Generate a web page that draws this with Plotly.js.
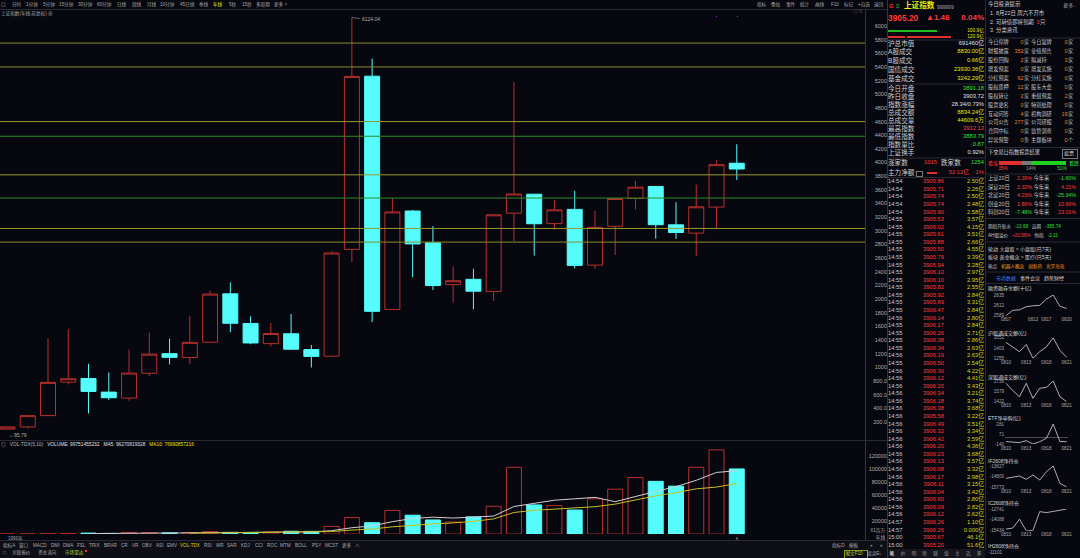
<!DOCTYPE html>
<html><head><meta charset="utf-8">
<script src="https://cdn.plot.ly/plotly-3.0.1.min.js"></script>
<style>
html,body{margin:0;padding:0;background:#07070f;width:1080px;height:558px;overflow:hidden;}
#chart{position:absolute;left:0;top:0;width:1080px;height:558px;}
#ov{position:absolute;left:0;top:0;width:1080px;height:558px;pointer-events:none;}
.t{position:absolute;white-space:nowrap;font-family:"Liberation Sans","Noto Sans CJK SC",sans-serif;line-height:1;}
.t span{margin-right:4px;}
.b{position:absolute;}
</style></head><body>
<div id="chart"></div><div id="ov"></div>
<script>
// ---------------- DATA ----------------
const years = [1990,1991,1992,1993,1994,1995,1996,1997,1998,1999,2000,2001,2002,2003,2004,2005,2006,2007,2008,2009,2010,2011,2012,2013,2014,2015,2016,2017,2018,2019,2020,2021,2022,2023,2024,2025,2026];
const openV  = [96.05,127.61,293.74,784.13,837.70,637.72,550.26,914.06,1200.95,1144.89,1368.69,2077.08,1643.49,1347.43,1492.72,1260.78,1163.88,2728.19,5265.00,1849.02,3289.75,2825.33,2212.00,2289.51,2112.13,3258.63,3536.59,3105.31,3314.03,2497.88,3066.34,3474.68,3649.15,3087.51,2966.39,3347.94,3990.00];
const highV  = [127.61,292.75,1429.01,1558.95,1052.94,926.41,1258.69,1510.17,1422.98,1756.18,2125.72,2245.42,1748.89,1649.60,1783.01,1328.53,2698.90,6124.04,5522.78,3478.01,3306.75,3067.46,2478.38,2444.80,3239.36,5178.19,3538.69,3450.49,3587.03,3288.45,3474.92,3731.69,3651.89,3418.95,3674.40,4030.00,4268.00];
const lowV   = [95.79,104.96,292.76,750.46,325.89,524.43,512.83,870.18,1043.02,1047.83,1361.21,1514.86,1339.20,1307.40,1259.43,998.23,1161.91,2541.52,1664.93,1844.09,2319.74,2134.02,1949.46,1849.65,1974.38,2850.71,2638.30,3016.53,2449.20,2440.91,2646.80,3312.72,2885.09,2882.02,2635.09,3040.69,3745.00];
const closeV = [127.61,292.75,780.39,833.80,647.87,555.29,917.02,1194.10,1146.70,1366.58,2073.48,1645.97,1357.65,1497.04,1266.50,1161.06,2675.47,5261.56,1820.81,3277.14,2808.08,2199.42,2269.13,2115.98,3234.68,3539.18,3103.64,3307.17,2493.90,3050.12,3473.07,3639.78,3089.26,2974.93,3351.76,3968.84,3905.20];
const volume = [50,300,600,1000,1500,1000,2500,2300,1800,2200,3800,2600,2400,3100,4300,4100,11800,25200,17400,36200,28900,21600,18400,26300,42500,102200,44600,43600,36800,54000,68700,86500,80700,73400,102200,128900,99751];

const levelVals   = [5750,5400,4600,4385,3820,3480,3035,2835];
const levelColors = ['#8c8c2c','#8c8c2c','#9a9a30','#2c8c2c','#9a9a30','#2c8c2c','#9a9a30','#8c8c2c'];

const yTickVals = [200,400,600,800,1000,1200,1400,1600,1800,2000,2200,2400,2600,2800,3000,3200,3400,3600,3800,4000,4200,4400,4600,4800,5000,5200,5400,5600,5800,6000];
const yTickText = ['200.0','400.0','600.0','800.0','1000','1200','1400','1600','1800','2000','2200','2400','2600','2800','3000','3200','3400','3600','3800','4000','4200','4400','4600','4800','5000','5200','5400','5600','5800','6000'];
const volTickVals = [20000,40000,60000,80000,100000,120000];
const volTickText = ['20000','40000','60000','80000','100000','120000'];

// mini charts
const datesA = ['0807','0810','0811','0812','0813','0814','0817','0818','0819','0820'];
const datesB = ['0810','0811','0812','0813','0814','0817','0818','0819','0820','0821'];
const ticksA = ['0807','0813','0817','0820'];
const ticksB = ['0810','0813','0818','0821'];
const marginBal = [2589,2601,2602,2609,2611,2612,2626,2635,2610,2605];
const shConnect = [1485,1415,1350,1455,1255,1350,1420,1552,1370,1270];
const szConnect = [1701,1590,1498,1701,1473,1625,1640,1736,1498,1422];
const etfFlow   = [-90,-95,-110,-70,-140,-92,-20,281,-88,-92];
const ifNet     = [-14970,-14860,-14754,-15063,-14661,-15125,-14352,-13827,-15434,-15773];
const icNet     = [-15230,-15107,-14006,-15434,-15400,-13068,-13190,-13068,-12950,-12741];
const miniTitles = ['融资融券余额(十亿)','沪股通成交额(亿)','深股通成交额(亿)','ETF净申购(亿)','IF2608净持仓','IC2608净持仓'];
const miniTickText = [['2589','2612','2635'],['1255','1403','1552'],['1422','1579','1736'],['-140','71','281'],['-15773','-14800','-13827'],['-15434','-14088','-12741']];

// tick list
const tickTime = ['14:54','14:54','14:54','14:54','14:54','14:55','14:55','14:55','14:55','14:55','14:55','14:55','14:55','14:55','14:55','14:55','14:55','14:55','14:56','14:55','14:55','14:55','14:55','14:56','14:55','14:56','14:56','14:56','14:56','14:56','14:56','14:56','14:56','14:56','14:56','14:56','14:56','14:56','14:56','14:56','14:56','14:56','14:56','14:56','14:56','14:57','14:57','15:00','15:00'];
const tickPrice = [3905.86,3905.71,3905.74,3905.74,3905.90,3905.53,3906.02,3905.61,3905.88,3905.50,3905.79,3905.94,3906.10,3906.10,3905.82,3905.92,3905.89,3906.47,3906.14,3906.17,3906.26,3906.38,3906.34,3906.19,3906.50,3906.30,3906.12,3906.20,3906.34,3906.18,3906.38,3905.58,3906.49,3906.32,3906.42,3906.20,3906.23,3906.13,3906.08,3906.17,3906.11,3906.04,3906.60,3906.09,3906.12,3906.26,3906.26,3905.67,3905.20];
const tickAmt = ['2.50','2.26','2.50','2.48','2.58','3.57','4.15','3.51','2.66','4.55','3.39','3.28','2.97','2.95','2.55','2.84','3.31','2.84','2.80','2.84','2.71','2.86','2.63','2.63','2.54','4.22','4.41','3.43','3.21','3.74','3.68','3.22','3.51','3.34','3.59','4.36','3.68','3.57','3.32','2.98','3.15','3.42','2.80','2.82','2.62','1.10','0.000','46.1','51.6'];
const prevClose = 3903.72;

// quote panel
const quoteRows1 = [['沪总市值','691460亿','#e0e0e0'],['A股成交','8830.00亿','#e6e600'],['B股成交','0.66亿','#e6e600'],['国债成交','23930.36亿','#e6e600'],['基金成交','3242.29亿','#e6e600']];
const quoteRows2 = [['今日开盘','3891.18','#30e030'],['昨日收盘','3903.72','#e0e0e0'],['指数涨幅','28.34/0.73%','#e0e0e0'],['总成交额','8834.24亿','#e6e600'],['总成交量','44609.6万','#e6e600'],['最高指数','3912.13','#ff3b3b'],['最低指数','3883.79','#30e030'],['指数量比','0.87','#30e030'],['上证换手','0.92%','#e0e0e0']];
const infoTable = [
 ['今日停牌','0','家','今日复牌','0','家'],['财报披露','352','家','业绩预告','0','家'],['股份回购','2','家','拟减持','3','家'],
 ['增发预案','0','家','增发实施','0','家'],['分红预案','62','家','分红实施','0','家'],['股权质押','12','家','股东大会','0','家'],
 ['股权转让','2','家','重组预案','2','家'],['股票更名','0','家','特别处理','0','家'],['互动问答','4','家','机构调研','19','家'],
 ['公司公告','277','家','公司研报','0','家'],['合同中标','0','家','监管调查','0','家'],['异常预警','0','条','主题板块','0','个']];
const idxNames = ['上证20日','深证20日','北证20日','创业20日','科创20日'];
const idx20 = ['2.39%','2.32%','4.23%','1.86%','-7.48%'];
const idxYtd = ['-1.60%','4.21%','-25.34%','10.69%','23.01%'];
const votePct = [35,14,51];

// ---------------- CHART ----------------
const W=1080,H=558;
const fx = p => p/W, fy = p => 1 - p/H;
const FONT = 'Liberation Sans, Noto Sans CJK SC, sans-serif';
const RED='#b8302e', CY='#54fcfc';
const XR=[1989.63,2032.33];

function ma(arr,n){return arr.map((v,i)=> i<n-1?null: arr.slice(i-n+1,i+1).reduce((a,b)=>a+b,0)/n);}
const up = closeV.map((c,i)=>c>=openV[i]);

const traces = [];
traces.push({type:'candlestick',x:years,open:openV,high:highV,low:lowV,close:closeV,xaxis:'x',yaxis:'y',
  whiskerwidth:0,hoverinfo:'skip',
  increasing:{line:{color:RED,width:1},fillcolor:'rgba(0,0,0,0)'},
  decreasing:{line:{color:CY,width:1},fillcolor:CY}});
traces.push({type:'bar',x:years,y:volume,xaxis:'x2',yaxis:'y2',width:0.74,hoverinfo:'skip',
  marker:{color:up.map(u=>u?'rgba(0,0,0,0)':CY),line:{color:up.map(u=>u?RED:CY),width:1}}});
traces.push({type:'scatter',mode:'lines',x:years,y:ma(volume,5),xaxis:'x2',yaxis:'y2',line:{color:'#d0d0d0',width:1},hoverinfo:'skip'});
traces.push({type:'scatter',mode:'lines',x:years,y:ma(volume,10),xaxis:'x2',yaxis:'y2',line:{color:'#c8c020',width:1},hoverinfo:'skip'});

const miniData = [marginBal,shConnect,szConnect,etfFlow,ifNet,icNet];
const miniDates = [datesA,datesB,datesB,datesB,datesB,datesB];
const miniTicks = [ticksA,ticksB,ticksB,ticksB,ticksB,ticksB];
const miniDom = [[295,315.7],[337.7,358.3],[381,401.7],[424,444],[466,487],[509,530.7]];
const miniTitleY = [288.3,332.7,376.7,418.3,460.7,503.3];

const layout = {
  width:W,height:H,margin:{l:0,r:0,t:0,b:0},
  paper_bgcolor:'#07070f',plot_bgcolor:'#07070f',showlegend:false,
  font:{family:FONT,color:'#a0a0a0',size:5},
  boxmode:'overlay',boxgap:0.26,boxgroupgap:0,
  xaxis:{domain:[0,fx(865)],range:XR,anchor:'y',showgrid:false,zeroline:false,showticklabels:false,showline:false,rangeslider:{visible:false},fixedrange:true},
  yaxis:{domain:[fy(440),fy(10)],range:[-63.6,6234.3],anchor:'free',position:fx(887),side:'left',tickvals:yTickVals,ticktext:yTickText,
    showgrid:false,zeroline:false,showline:false,ticks:'',ticklen:0,tickfont:{size:5.5,color:'#b0b0b0'}},
  xaxis2:{domain:[0,fx(865)],range:XR,anchor:'y2',showgrid:false,zeroline:false,showticklabels:false,showline:false},
  yaxis2:{domain:[fy(534.06),fy(441)],range:[0,142500],anchor:'free',position:fx(887),side:'left',tickvals:volTickVals,ticktext:volTickText,
    showgrid:false,zeroline:false,showline:false,ticks:'',ticklen:0,tickfont:{size:5.5,color:'#b0b0b0'}},
  shapes:[],annotations:[]
};

miniData.forEach((d,k)=>{
  const n=k+3;
  const mn=Math.min(...d), mx=Math.max(...d);
  traces.push({type:'scatter',mode:'lines',x:miniDates[k],y:d,xaxis:'x'+n,yaxis:'y'+n,line:{color:'#d8d8d8',width:0.8},hoverinfo:'skip'});
  layout['xaxis'+n]={domain:[fx(1005),fx(1068)],type:'category',range:[-0.15,9.2],anchor:'y'+n,tickvals:miniTicks[k],ticktext:miniTicks[k],
    showgrid:false,zeroline:false,showline:false,ticks:'',ticklen:0,tickangle:0,tickfont:{size:4.6,color:'#a8a8a8'}};
  layout['yaxis'+n]={domain:[fy(miniDom[k][1]),fy(miniDom[k][0])],range:[mn,mx],anchor:'x'+n,tickvals:[mn,(mn+mx)/2,mx],ticktext:miniTickText[k],
    showgrid:false,zeroline:(k===3),zerolinecolor:'#7a7a7a',zerolinewidth:0.6,showline:false,ticks:'',ticklen:0,tickfont:{size:4.6,color:'#a8a8a8'}};
});

// drawn horizontal levels
levelVals.forEach((v,i)=>layout.shapes.push({type:'line',xref:'paper',yref:'y',x0:0,x1:fx(865),y0:v,y1:v,layer:'above',line:{color:levelColors[i],width:1}}));
// separators
function hl(y,x0,x1,c){layout.shapes.push({type:'line',xref:'paper',yref:'paper',x0:fx(x0),x1:fx(x1),y0:fy(y),y1:fy(y),line:{color:c||'#2a2a36',width:1}});}
function vl(x,y0,y1,c){layout.shapes.push({type:'line',xref:'paper',yref:'paper',x0:fx(x),x1:fx(x),y0:fy(y0),y1:fy(y1),line:{color:c||'#2a2a36',width:1}});}
hl(9.5,0,887); hl(440.5,0,887); hl(540.5,0,887);
vl(865.5,9.5,540.5,'#34343e'); vl(887.5,0,558,'#34343e'); vl(985.5,0,549,'#2a2a36');
hl(40,888,985); hl(84,888,985); hl(158,888,985); hl(177.5,888,985);
hl(38,986,1080); hl(147.5,986,1080); hl(174,986,1080); hl(218.5,986,1080); hl(242,986,1080); hl(272,986,1080); hl(283.5,986,1080);

// extreme labels from data
const hiIdx = highV.indexOf(Math.max(...highV));
const loIdx = lowV.indexOf(Math.min(...lowV));
layout.annotations.push({x:years[hiIdx],y:highV[hiIdx],xref:'x',yref:'y',text:highV[hiIdx].toFixed(2),showarrow:true,arrowhead:0,arrowwidth:0.6,arrowcolor:'#a0a0a0',ax:8,ay:1,xanchor:'left',yanchor:'middle',font:{size:5,color:'#b0b0b0'}});
layout.annotations.push({x:years[loIdx],y:lowV[loIdx],xref:'x',yref:'y',text:'←'+lowV[loIdx].toFixed(2),showarrow:false,xanchor:'left',yanchor:'top',xshift:-1,yshift:-1,font:{size:5,color:'#b0b0b0'}});

Plotly.newPlot('chart',traces,layout,{staticPlot:true,displayModeBar:false});

// ---------------- OVERLAY TEXT ----------------
const ov=document.getElementById('ov');
function T(x,y,s,c,sz,al,wt){
  const d=document.createElement('div');d.className='t';d.textContent=s;
  d.style.left=x+'px';d.style.top=y+'px';d.style.color=c||'#c8c8c8';d.style.fontSize=(sz||5)+'px';
  if(wt)d.style.fontWeight=wt;
  const tx=al==='r'?'-100%':al==='c'?'-50%':'0';
  d.style.transform='translate('+tx+',-50%)';ov.appendChild(d);return d;}
function F(x,y,parts,sz){ // flowing run of coloured spans
  const d=document.createElement('div');d.className='t';d.style.left=x+'px';d.style.top=y+'px';d.style.fontSize=sz+'px';
  d.style.transform='translate(0,-50%)';
  parts.forEach(p=>{const s=document.createElement('span');s.textContent=p[0];s.style.color=p[1];d.appendChild(s);});
  ov.appendChild(d);return d;}
function R(x,y,w,h,c,br){const d=document.createElement('div');d.className='b';d.style.left=x+'px';d.style.top=y+'px';d.style.width=w+'px';d.style.height=h+'px';
  if(c)d.style.background=c;if(br)d.style.border='0.6px solid '+br;ov.appendChild(d);return d;}

// bottom toolbar backgrounds
R(0,541,887,17,'#0e0e16');
R(888,549,97,9,'#16161e');

// top toolbar
const topTabs=['口','分时','1分钟','5分钟','15分钟','30分钟','60分钟','日线','周线','月线','10分钟','45日线','季线','年线','5秒','15秒','多周期','更多 >'];
const topTabX=[1,12,26,43,59,78,97,117,132,147,160,180,199,213,229,242,256,274];
topTabs.forEach((s,i)=>T(topTabX[i],4.5,s,s==='年线'?'#e6e600':'#a8a8a8',4.6));
const rTabs=['指标','叠加','事件','统计','画线','F10','标记','+自选','返回'];
const rTabX=[757,771,786,800,815,831,844,858,874];
rTabs.forEach((s,i)=>T(rTabX[i],4.5,s,'#a8a8a8',4.6));
T(1,13.5,'上证指数(年线,前复权) ⊗','#a8a8a8',4.6);
T(862,12,'◇ □','#888',4.6,'r');
R(715.5,15.5,1.2,1.2,'#a030c0');R(736.5,15.5,1.2,1.2,'#a030c0');

// volume header
F(1,444.8,[['◎','#9a9a9a'],['VOL-TDX(5,10)','#b8b8b8'],['VOLUME: 99751455232','#e0e0e0'],['MA5: 96270819328','#e0e0e0'],['MA10: 76990857216','#e6e600']],4.8);
T(8,538.5,years[0]+'年','#a8a8a8',4.6);
T(737,538.8,'8','#a0a0a0',4.4,'c');
T(885,531,'X1百万','#a8a8a8',4.6,'r');
T(885,538,'年线','#a8a8a8',4.6,'r');

// bottom indicator tabs
const indTabs=['指标A','窗口','MACD','DMI','DMA','FSL','TRIX','BRAR','CR','VR','OBV','ASI','EMV','VOL-TDX','RSI','WR','SAR','KDJ','CCI','ROC','MTM','BOLL','PSY','MCST','更多','∧'];
const indX=[3,19,33,51,63,77,89,104,121,132,142,156,167,180,204,216,227,241,255,267,280,295,312,325,342,355];
indTabs.forEach((s,i)=>T(indX[i],545.5,s,s==='VOL-TDX'?'#d8d800':'#a8a8a8',4.6));
T(3,553.3,'□','#a0a0a0',4.6);
T(12,553.3,'关联报价','#a8a8a8',4.6);T(38,553.3,'资金流向','#a8a8a8',4.6);T(65,553.3,'市场雷达','#b8d030',4.6);
R(85,550.3,1.5,1.5,'#ff3030');
T(832,545.5,'指标D','#a8a8a8',4.6);T(849,545.5,'模板','#a8a8a8',4.6);T(870,545.5,'«','#a8a8a8',4.6);T(880,545.5,'»','#a8a8a8',4.6);
R(844,549.5,22,8,null,'#8a9a20');
T(845.5,553.5,'图文F10','#b8d030',4.6);T(867,553.5,'阅读E›','#a8a8a8',4.6);
const pTabs=['笔','价','明','势','联','值','主','近','筹'];
pTabs.forEach((s,i)=>T(892+i*10.9,553.5,s,i===0?'#ffffff':'#9a9a9a',4.8,'c'));

// quote header
T(889,6,'G','#ff3030',6,null,'bold');T(896,6,'≡','#30d030',6);
T(904,6.2,'上证指数','#f0f000',7.6,null,'bold');T(937,6.5,'999999','#a8a8a8',5);
T(888,17.5,closeV[closeV.length-1].toFixed(2),'#ff3b3b',8.4,null,'bold');
T(926,17.5,'▲'+(closeV[closeV.length-1]-prevClose).toFixed(2),'#ff3b3b',8,null,'bold');
T(984,17.5,((closeV[closeV.length-1]-prevClose)/prevClose*100).toFixed(2)+'%','#ff3b3b',8,'r','bold');
R(888,29.7,49,2,'#20c020');R(888,35.7,17,2,'#e03030');R(907,35.7,44,2,'#e03030');
T(984,30.5,'100.9亿','#e6e600',4.8,'r');T(984,36.7,'120.9亿','#e6e600',4.8,'r');
quoteRows1.forEach((r,i)=>{const y=43.5+i*8.9;T(888,y,r[0],'#d0d0d0',6.6);T(984,y,r[1],r[2],5.8,'r');});
quoteRows2.forEach((r,i)=>{const y=89.3+i*8;T(888,y,r[0],'#d0d0d0',6.6);T(984,y,r[1],r[2],5.8,'r');});
T(888,163,'涨家数','#d0d0d0',6.6);T(937,163,'1015','#ff3b3b',5.8,'r');T(941,163,'跌家数','#d0d0d0',6.6);T(984,163,'1254','#30e030',5.8,'r');
T(888,172.7,'主力净额','#d0d0d0',6.6);R(916,170.5,5,4,null,'#777');R(927,171.7,10,2,'#e03030');T(969,172.7,'52.12亿','#ff3b3b',5.8,'r');T(984,172.7,'1%','#ff3b3b',5.8,'r');

// ticks
tickTime.forEach((s,i)=>{const y=182.3+i*7.57;
  T(888,y,s,'#c8c8c8',5.8);
  T(944,y,tickPrice[i].toFixed(2),tickPrice[i]>prevClose?'#ff3b3b':(tickPrice[i]<prevClose?'#30e030':'#e0e0e0'),5.8,'r');
  T(984,y,tickAmt[i]+'亿','#d8d800',5.8,'r');});

// right column
T(988,5,'今日投资提示','#d8d8d8',5.4);T(1076,5,'更多..','#a8a8a8',5,'r');
T(990,14,'1. 8月22日 周六不开市','#d0d0d0',5.4);
T(990,22.7,'2. 可转债即将到期','#d0d0d0',5.4);
T(1036.5,22.7,'3','#ff3b3b',5.4);T(1040,22.7,'只','#d0d0d0',5.4);
T(990,31,'3. 分类资讯','#d0d0d0',5.4);
infoTable.forEach((r,i)=>{const y=43.3+i*8.9;
  T(988,y,r[0],'#c8c8c8',5.2);T(1023.5,y,r[1],'#ff7a1a',5.4,'r');T(1024,y,r[2],'#b0b0b0',5.2);
  T(1031,y,r[3],'#c8c8c8',5.2);T(1067.5,y,r[4],'#ff7a1a',5.4,'r');T(1068,y,r[5],'#b0b0b0',5.2);});
T(988,153.3,'下交易日指数投票结果','#d8d8d8',5.2);
R(1062,149.3,14,8,null,'#777');T(1069,153.3,'投票','#d8d8d8',5,'c');
T(988,162.8,'看涨','#ff3b3b',5);
const vbX=999,vbW=67;
R(vbX,161,vbW*votePct[0]/100,3.5,'#e03030');
R(vbX+vbW*votePct[0]/100,161,vbW*votePct[1]/100,3.5,'#7a7a7a');
R(vbX+vbW*(votePct[0]+votePct[1])/100,161,vbW*votePct[2]/100,3.5,'#20d020');
T(1069,162.8,'看跌','#30e030',5);
T(1003,169.3,votePct[0]+'%','#ff3b3b',4.8,'c');T(1031,169.3,votePct[1]+'%','#a0a0a0',4.8,'c');T(1062,169.3,votePct[2]+'%','#30e030',4.8,'c');
idxNames.forEach((s,i)=>{const y=179.3+i*8.4;
  T(988,y,s,'#c8c8c8',5.3);
  T(1032,y,idx20[i],idx20[i][0]==='-'?'#30e030':'#ff3b3b',5.3,'r');
  T(1033.5,y,'今年来','#c8c8c8',5.3);
  T(1076,y,idxYtd[i],idxYtd[i][0]==='-'?'#30e030':'#ff3b3b',5.3,'r');});
F(988,227,[['期指升贴水','#c8c8c8'],['-13.68','#30e030'],['远期','#c8c8c8'],['-385.74','#30e030']],4.6);
F(988,235.7,[['AH股溢价','#c8c8c8'],['+20.56%','#ff3b3b'],['恒指','#c8c8c8'],['-2.11','#30e030']],4.6);
T(988,249,'轮动 大盘股 > 小盘股(已7天)','#d0d0d0',5);
T(988,257.3,'板块 黄金概念 > 医疗(已5天)','#d0d0d0',5);
F(988,266.7,[['热点','#d0d0d0'],['机器人概念','#ff9a1a'],['创新药','#ff9a1a'],['光学光电','#ff9a1a']],4.6);
F(996,278,[['市场数据','#3a7cff'],['事件会议','#d8d8d8'],['趋势财经','#d8d8d8']],5);
miniTitles.forEach((s,i)=>T(988,miniTitleY[i],s,'#d8d8d8',5));
T(988,546,'IH2608净持仓','#d8d8d8',5);T(1002,552.7,'-11101','#a8a8a8',4.6,'r');
</script>
</body></html>
